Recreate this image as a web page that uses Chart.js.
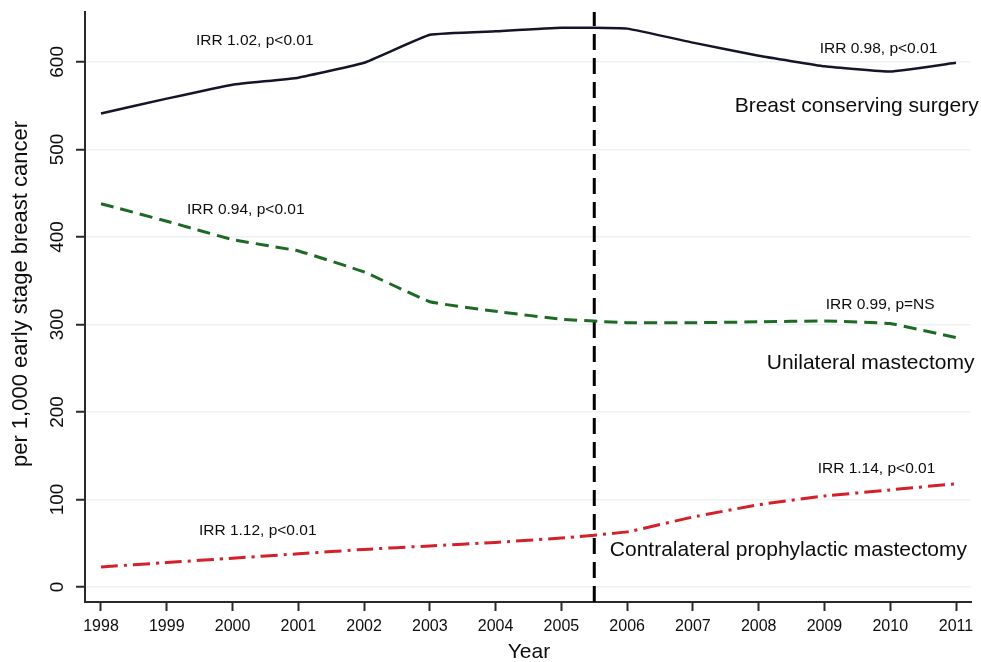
<!DOCTYPE html>
<html>
<head>
<meta charset="utf-8">
<script src="https://cdn.jsdelivr.net/npm/chart.js@4"></script>
<style>
  html, body { margin: 0; padding: 0; background: #ffffff; }
  #wrap { width: 981px; height: 662px; }
</style>
</head>
<body>
<div id="wrap"><canvas id="c" width="981" height="662"></canvas></div>
<script>
// ---- data ----
const years = [1998, 1999, 2000, 2001, 2002, 2003, 2004, 2005, 2006, 2007, 2008, 2009, 2010, 2011];
const breastConserving = [541, 558, 574, 582, 599, 631, 635, 639, 638, 622, 607, 595, 589, 599];
const unilateralMastectomy = [438, 418, 397, 384, 360, 326, 315, 306, 302, 302, 303, 304, 301, 285];
const contralateralProphylactic = [23, 28, 33, 38, 43, 47, 51, 56, 63, 80, 94, 104, 111, 118];
const yTickValues = [0, 100, 200, 300, 400, 500, 600];
const xTickValues = years;
const cutoffYear = 2005.5;
const yTitle = 'per 1,000 early stage breast cancer';
const xTitle = 'Year';
const irrLabels = ['IRR 1.02, p<0.01', 'IRR 0.98, p<0.01', 'IRR 0.94, p<0.01', 'IRR 0.99, p=NS', 'IRR 1.14, p<0.01', 'IRR 1.12, p<0.01'];
const seriesNames = ['Breast conserving surgery', 'Unilateral mastectomy', 'Contralateral prophylactic mastectomy'];

// ---- layout of annotations (data units: left x, baseline y) ----
const Y_MIN = -17.1, Y_MAX = 657;
const X_MIN = 1997.757, X_MAX = 2011.228;
const annotations = [
  { text: irrLabels[0], x: 1999.444, y: 619.4, size: 15.5 },
  { text: irrLabels[1], x: 2008.927, y: 610.3, size: 15.5 },
  { text: irrLabels[2], x: 1999.307, y: 426.3, size: 15.5 },
  { text: irrLabels[3], x: 2009.018, y: 317.7, size: 15.5 },
  { text: irrLabels[4], x: 2008.897, y: 130.3, size: 15.5 },
  { text: irrLabels[5], x: 1999.489, y: 59.4, size: 15.5 },
  { text: seriesNames[0], x: 2007.635, y: 542.9, size: 21 },
  { text: seriesNames[1], x: 2008.122, y: 249.1, size: 21 },
  { text: seriesNames[2], x: 2005.736, y: 35.4, size: 21 }
];

const FONT = '"Liberation Sans", Arial, Helvetica, sans-serif';
const TEXT = '#0d0d0d';

const textPlugin = {
  id: 'textPlugin',
  afterDraw(chart) {
    const ctx = chart.ctx;
    const xs = chart.scales.x, ys = chart.scales.y;
    ctx.save();
    ctx.fillStyle = TEXT;
    // x tick labels
    ctx.font = '16px ' + FONT;
    ctx.textAlign = 'center';
    ctx.textBaseline = 'alphabetic';
    xTickValues.forEach(v => {
      ctx.fillText(String(v), xs.getPixelForValue(v), 631);
    });
    // x title
    ctx.font = '21px ' + FONT;
    ctx.fillText(xTitle, (xs.left + xs.right) / 2 + 1, 658);
    // y tick labels (rotated)
    ctx.font = '19px ' + FONT;
    yTickValues.forEach(v => {
      ctx.save();
      ctx.translate(63, ys.getPixelForValue(v));
      ctx.rotate(-Math.PI / 2);
      ctx.textAlign = 'center';
      ctx.fillText(String(v), 0, 0);
      ctx.restore();
    });
    // y title
    ctx.save();
    ctx.font = '22px ' + FONT;
    ctx.translate(27, 294);
    ctx.rotate(-Math.PI / 2);
    ctx.textAlign = 'center';
    ctx.fillText(yTitle, 0, 0);
    ctx.restore();
    // annotations
    ctx.textAlign = 'left';
    annotations.forEach(a => {
      ctx.font = a.size + 'px ' + FONT;
      ctx.fillText(a.text, xs.getPixelForValue(a.x), ys.getPixelForValue(a.y));
    });
    ctx.restore();
  }
};

const toPts = arr => years.map((yr, i) => ({ x: yr, y: arr[i] }));

new Chart(document.getElementById('c'), {
  type: 'line',
  data: {
    datasets: [
      {
        label: seriesNames[0],
        data: toPts(breastConserving),
        borderColor: '#15152a',
        borderWidth: 2.5,
        pointRadius: 0,
        tension: 0.1,
        fill: false
      },
      {
        label: seriesNames[1],
        data: toPts(unilateralMastectomy),
        borderColor: '#1e6a25',
        borderWidth: 3,
        borderDash: [13, 7],
        pointRadius: 0,
        tension: 0.1,
        fill: false
      },
      {
        label: seriesNames[2],
        data: toPts(contralateralProphylactic),
        borderColor: '#d3202a',
        borderWidth: 3,
        borderDash: [17, 6, 3, 6],
        pointRadius: 0,
        tension: 0.1,
        fill: false
      },
      {
        label: 'cutoff',
        data: [{ x: cutoffYear, y: Y_MIN }, { x: cutoffYear, y: Y_MAX }],
        borderColor: '#000000',
        borderWidth: 3,
        borderDash: [16, 8],
        pointRadius: 0,
        fill: false
      }
    ]
  },
  options: {
    responsive: false,
    animation: false,
    devicePixelRatio: 1,
    layout: { padding: { left: 76, right: 10, top: 12, bottom: 51 } },
    plugins: {
      legend: { display: false },
      tooltip: { enabled: false }
    },
    scales: {
      x: {
        type: 'linear',
        min: X_MIN,
        max: X_MAX,
        afterBuildTicks: s => { s.ticks = xTickValues.map(v => ({ value: v })); },
        ticks: { display: false },
        grid: {
          drawOnChartArea: false,
          drawTicks: true,
          tickLength: 9,
          tickColor: '#2a2a2a',
          tickWidth: 2
        },
        border: { display: true, color: '#2a2a2a', width: 2 }
      },
      y: {
        type: 'linear',
        min: Y_MIN,
        max: Y_MAX,
        afterBuildTicks: s => { s.ticks = yTickValues.map(v => ({ value: v })); },
        ticks: { display: false },
        grid: {
          color: '#edf1f4',
          lineWidth: 1.5,
          drawTicks: true,
          tickLength: 9,
          tickColor: '#2a2a2a',
          tickWidth: 2
        },
        border: { display: true, color: '#2a2a2a', width: 2 }
      }
    }
  },
  plugins: [textPlugin]
});
</script>
</body>
</html>
